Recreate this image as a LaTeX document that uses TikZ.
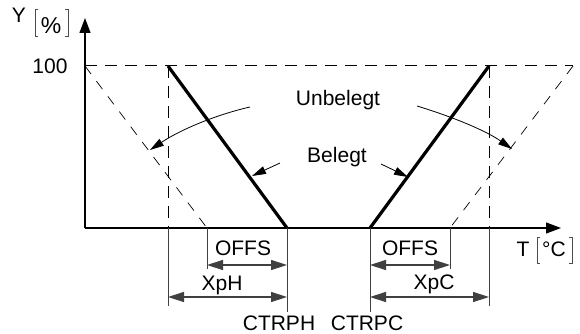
\documentclass[tikz,border=0pt]{standalone}
\usepackage{fontspec}
\setmainfont{Liberation Sans}
\usetikzlibrary{arrows.meta}
\begin{document}
\begin{tikzpicture}[x=1pt,y=-1pt,
  lbl/.style={font=\fontsize{21}{24}\selectfont, inner sep=0pt, anchor=base},
  axis/.style={line width=1.2pt, -{Triangle[length=15pt,width=11pt]}},
  thick line/.style={line width=3.2pt},
  dashline/.style={line width=1pt, dash pattern=on 12pt off 8pt},
  thindash/.style={line width=0.7pt, dash pattern=on 10pt off 9pt},
  ext/.style={line width=0.9pt, draw=black!75},
  dim/.style={line width=1.4pt, draw=black!75, {Triangle[length=16pt,width=10pt]}-{Triangle[length=16pt,width=10pt]}},
  note/.style={line width=0.8pt, -{Triangle[length=14pt,width=8pt]}},
  brk/.style={line width=0.8pt, draw=black!70}
]
\useasboundingbox (0,0) rectangle (580,334);
% key points
\coordinate (O) at (85,228);
\coordinate (Ytop) at (85,18);
\coordinate (Xend) at (561,228);
\coordinate (TL) at (85,66);
\coordinate (TR) at (573,66);
\coordinate (A) at (168,66);
\coordinate (Ab) at (168,228);
\coordinate (B) at (489,66);
\coordinate (Bb) at (489,228);
\coordinate (CH) at (287,228);
\coordinate (CC) at (370,228);
\coordinate (DL) at (207,228);
\coordinate (DR) at (450,228);
% dashed envelope
\draw[dashline] (TL) -- (TR);
\draw[dashline] (A) -- (Ab);
\draw[dashline] (B) -- (Bb);
\draw[thindash] (TL) -- (DL);
\draw[thindash] (TR) -- (DR);
% axes
\draw[axis] (O) -- (Ytop);
\draw[axis] (O) -- (Xend);
% thick characteristic lines
\draw[thick line] (A) -- (CH);
\draw[thick line] (CC) -- (B);
% extension lines
\coordinate (e1) at (168,306);
\coordinate (e2) at (207,269);
\coordinate (e3) at (287,312);
\coordinate (e4) at (370,312);
\coordinate (e5) at (450,269);
\coordinate (e6) at (489,306);
\draw[ext] (Ab) -- (e1);
\draw[ext] (DL) -- (e2);
\draw[ext] (CH) -- (e3);
\draw[ext] (CC) -- (e4);
\draw[ext] (DR) -- (e5);
\draw[ext] (Bb) -- (e6);
% dimension arrows
\coordinate (o1a) at (207,265); \coordinate (o1b) at (287,265);
\coordinate (x1a) at (168,297); \coordinate (x1b) at (287,297);
\coordinate (o2a) at (370,265); \coordinate (o2b) at (450,265);
\coordinate (x2a) at (370,297); \coordinate (x2b) at (489,297);
\draw[dim] (o1a) -- (o1b);
\draw[dim] (x1a) -- (x1b);
\draw[dim] (o2a) -- (o2b);
\draw[dim] (x2a) -- (x2b);
% labels
\node[lbl] (offs1) at (243,255) {OFFS};
\node[lbl] (xph) at (222,290) {XpH};
\node[lbl] (offs2) at (410,255) {OFFS};
\node[lbl] (xpc) at (434,289) {XpC};
\node[lbl] (ctrph) at (279,330) {CTRPH};
\node[lbl] (ctrpc) at (367,330) {CTRPC};
\node[lbl] (hundred) at (50,74) {100};
\node[lbl] (unb) at (338,106) {Unbelegt};
\node[lbl] (bel) at (337,162) {Belegt};
% axis units
\node[lbl] (ylab) at (19,23) {Y};
\node[lbl, font=\fontsize{23}{26}\selectfont] (pct) at (51,34) {\%};
\draw[brk] (38,9) -- (35,9) -- (35,36) -- (38,36);
\draw[brk] (65,9) -- (68,9) -- (68,36) -- (65,36);
\node[lbl] (tlab) at (523,256) {T};
\node[lbl] (degc) at (554,256) {°C};
\draw[brk] (540,237) -- (537,237) -- (537,263) -- (540,263);
\draw[brk] (569,237) -- (572,237) -- (572,263) -- (569,263);
% annotation arrows
\coordinate (u1s) at (250,107); \coordinate (u1e) at (150,150);
\coordinate (u2s) at (417,106); \coordinate (u2e) at (512,149);
\coordinate (b1s) at (280,163); \coordinate (b1e) at (252,176);
\coordinate (b2s) at (381,164); \coordinate (b2e) at (408,177);
\draw[note] (u1s) .. controls (215,115) and (180,130) .. (u1e);
\draw[note] (u2s) .. controls (450,116) and (485,130) .. (u2e);
\draw[note] (b1s) -- (b1e);
\draw[note] (b2s) -- (b2e);
\end{tikzpicture}
\end{document}
